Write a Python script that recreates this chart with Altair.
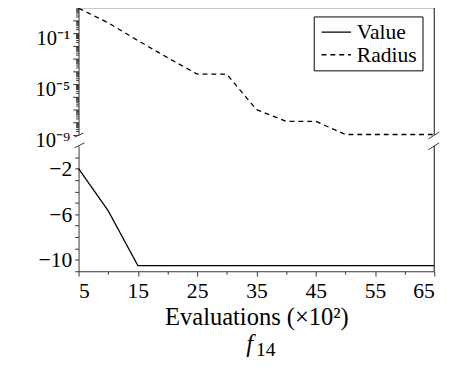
import altair as alt
import pandas as pd

# ---- data ----
evals = [5, 10, 15, 20, 25, 30, 35, 40, 45, 50, 55, 60, 65]
radius = [9.0, 0.64, 0.026, 1.2e-3, 6e-5, 6e-5, 1.0e-7, 1.2e-8, 1.2e-8,
          1.1e-9, 1.1e-9, 1.1e-9, 1.1e-9]
value = [-2.0, -5.7, -10.5, -10.5, -10.5, -10.5, -10.5, -10.5, -10.5,
         -10.5, -10.5, -10.5, -10.5]
series_names = ["Value", "Radius"]
x_ticks = list(range(5, 70, 5))
log_ticks = [m * 10 ** k for k in range(-9, 1) for m in range(1, 10)]
lin_ticks = list(range(-11, 0))
title_main = "f"
title_sub = "14"

W = 363
H_TOP = 130
H_BOT = 128
FONT = "Liberation Serif"
AX = "#333333"

top_df = pd.DataFrame({"evals": evals, "val": radius, "series": "Radius"})
bot_df = pd.DataFrame({"evals": evals, "val": value, "series": "Value"})
one = pd.DataFrame({"k": [0]})

xs = alt.Scale(domain=[5, 65], nice=False, zero=False)
dash_scale = alt.Scale(domain=series_names, range=[[1, 0], [5, 4]])

log_label = ("abs(datum.value - 0.1) < 1e-4 ? '10⁻¹' : "
             "abs(datum.value - 1e-5) < 1e-8 ? '10⁻⁵' : "
             "abs(datum.value - 1e-9) < 1e-12 ? '10⁻⁹' : ''")
log_major = ("abs(datum.value - 0.1) < 1e-4 || abs(datum.value - 1e-5) < 1e-8 "
             "|| abs(datum.value - 1e-9) < 1e-12")
is_decade = "abs(log(datum.value)/LN10 - round(log(datum.value)/LN10)) < 0.001"
x_major = "(datum.value - 5) % 10 == 0"
y_major = "(datum.value + 2) % 4 == 0"

radius_line = alt.Chart(top_df).mark_line(color="black", strokeWidth=1.3).encode(
    x=alt.X("evals:Q", scale=xs, axis=None),
    y=alt.Y("val:Q",
            scale=alt.Scale(type="log", domain=[1e-9, 10], nice=False),
            axis=alt.Axis(title=None, values=log_ticks, labelExpr=log_label,
                          labelFont=FONT, labelColor="black",
                          labelFontSize={"condition": {"test": log_major, "value": 21}, "value": 1},
                          tickSize={"condition": {"test": is_decade, "value": 6}, "value": 3},
                          labelPadding=3, labelOffset=6, minExtent=72, maxExtent=72)),
    strokeDash=alt.StrokeDash(
        "series:N", scale=dash_scale,
        legend=alt.Legend(title=None, orient="none", legendX=240, legendY=9,
                          strokeColor="black", fillColor="white", padding=5,
                          labelFont=FONT, labelFontSize=22, labelColor="black",
                          symbolType="M-0.8,0H2.2", symbolSize=400,
                          symbolStrokeWidth=1.5, symbolStrokeColor="black",
                          symbolFillColor="transparent",
                          rowPadding=1, labelOffset=17)),
)

rule = alt.Chart(one).mark_rule(color=AX, strokeWidth=1.2)
slash = alt.Chart(one).mark_rule(color=AX, strokeWidth=1)

top = alt.layer(
    radius_line,
    rule.encode(x=alt.value(0), x2=alt.value(W), y=alt.value(0)),
    rule.encode(x=alt.value(W), y=alt.value(0), y2=alt.value(H_TOP)),
    slash.encode(x=alt.value(-4), x2=alt.value(5), y=alt.value(H_TOP + 2), y2=alt.value(H_TOP - 2)),
    slash.encode(x=alt.value(W - 6), x2=alt.value(W + 5), y=alt.value(H_TOP + 4), y2=alt.value(H_TOP - 3)),
).properties(width=W, height=H_TOP)

value_line = alt.Chart(bot_df).mark_line(color="black", strokeWidth=1.3).encode(
    x=alt.X("evals:Q", scale=xs,
            axis=alt.Axis(title="Evaluations (×10²)", values=x_ticks,
                          labelExpr=f"{x_major} ? datum.label : ''",
                          labelFont=FONT, labelColor="black",
                          labelFontSize={"condition": {"test": x_major, "value": 22}, "value": 1},
                          tickSize={"condition": {"test": x_major, "value": 5}, "value": 3},
                          labelPadding=5, titlePadding=3,
                          titleFont=FONT, titleFontSize=25, titleColor="black",
                          titleFontWeight="normal")),
    y=alt.Y("val:Q", scale=alt.Scale(domain=[-11, 0], nice=False, zero=False),
            axis=alt.Axis(title=None, values=lin_ticks,
                          labelExpr=f"{y_major} ? datum.label : ''",
                          labelFont=FONT, labelColor="black",
                          labelFontSize={"condition": {"test": y_major, "value": 22}, "value": 1},
                          tickSize=4, labelPadding=3, minExtent=72, maxExtent=72)),
    strokeDash=alt.StrokeDash("series:N", scale=dash_scale, legend=None),
)

title_f = alt.Chart(one).mark_text(
    text=title_main, font=FONT, fontSize=25, fontStyle="italic", color="black",
    align="left", baseline="alphabetic",
).encode(x=alt.value(171), y=alt.value(H_BOT + 82))
title_14 = alt.Chart(one).mark_text(
    text=title_sub, font=FONT, fontSize=20, color="black",
    align="left", baseline="alphabetic",
).encode(x=alt.value(181), y=alt.value(H_BOT + 86))

bottom = alt.layer(
    value_line,
    rule.encode(x=alt.value(W), y=alt.value(0), y2=alt.value(H_BOT)),
    slash.encode(x=alt.value(-4), x2=alt.value(6), y=alt.value(2), y2=alt.value(-3)),
    slash.encode(x=alt.value(W - 6), x2=alt.value(W + 5), y=alt.value(4), y2=alt.value(-3)),
    title_f,
    title_14,
).properties(width=W, height=H_BOT)

chart = alt.vconcat(top, bottom, spacing=11, bounds="flush").resolve_scale(
    y="independent", strokeDash="independent"
).resolve_legend(strokeDash="independent").properties(
    padding={"left": 0, "top": -7, "right": 8, "bottom": 0}
).configure_view(stroke=None).configure_axis(
    domainColor=AX, tickColor=AX, grid=False,
)

chart.save("out.html", embed_options={"renderer": "svg", "actions": False})
